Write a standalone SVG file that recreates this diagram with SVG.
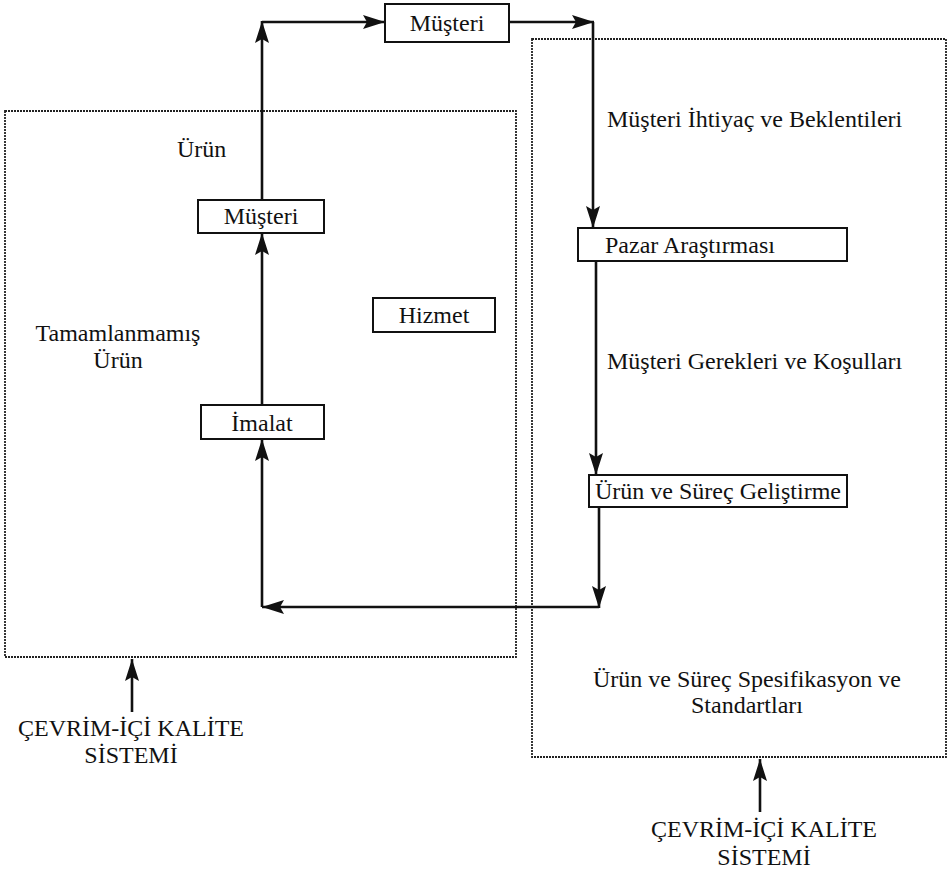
<svg xmlns="http://www.w3.org/2000/svg" width="948" height="870" viewBox="0 0 948 870">
<style>
text{font-family:"Liberation Serif","Times New Roman",serif;font-size:24px;fill:#111;}
.c{text-anchor:middle;}
.box{fill:#fff;stroke:#111;stroke-width:2;}
.dot{fill:none;stroke:#222;stroke-width:1.8;stroke-dasharray:2 1;}
.ln{fill:none;stroke:#111;stroke-width:2.6;marker-end:url(#ah);}
</style>
<defs>
<marker id="ah" markerUnits="userSpaceOnUse" markerWidth="24" markerHeight="14" refX="22" refY="7" orient="auto">
<path d="M0,0 L22,7 L0,14 L4,7 Z" fill="#111"/>
</marker>
</defs>
<g id="left-frame"><rect class="dot" x="5" y="111" width="511" height="546"/></g>
<g id="right-frame"><rect class="dot" x="532" y="39" width="414" height="718"/></g>
<g id="connectors">
<line class="ln" x1="262" y1="405" x2="262" y2="233"/>
<line class="ln" x1="262" y1="200" x2="262" y2="21"/>
<line class="ln" x1="262" y1="22" x2="385" y2="22"/>
<line class="ln" x1="509" y1="22" x2="594" y2="22"/>
<line class="ln" x1="593" y1="22" x2="593" y2="228"/>
<line class="ln" x1="596" y1="261" x2="596" y2="475"/>
<line class="ln" x1="599" y1="507" x2="599" y2="608"/>
<line class="ln" x1="599" y1="607" x2="262" y2="607"/>
<line class="ln" x1="262" y1="607" x2="262" y2="439"/>
<line class="ln" x1="132" y1="712" x2="132" y2="659"/>
<line class="ln" x1="760" y1="812" x2="760" y2="759"/>
</g>
<g id="musteri-top"><rect class="box" x="385" y="4" width="124" height="38"/><text class="c" x="447" y="31">Müşteri</text></g>
<g id="musteri-left"><rect class="box" x="198" y="200" width="126" height="33"/><text class="c" x="261" y="224">Müşteri</text></g>
<g id="hizmet"><rect class="box" x="373" y="298" width="122" height="34"/><text class="c" x="434" y="323">Hizmet</text></g>
<g id="imalat"><rect class="box" x="201" y="405" width="123" height="34"/><text class="c" x="262" y="431">İmalat</text></g>
<g id="pazar"><rect class="box" x="578" y="228" width="269" height="33"/><text x="605" y="253">Pazar Araştırması</text></g>
<g id="gelistirme"><rect class="box" x="589" y="475" width="258" height="32"/><text class="c" x="718" y="499">Ürün ve Süreç Geliştirme</text></g>
<g id="labels">
<text x="177" y="157">Ürün</text>
<text class="c" x="118" y="341">Tamamlanmamış</text>
<text class="c" x="118" y="368">Ürün</text>
<text x="607" y="127">Müşteri İhtiyaç ve Beklentileri</text>
<text x="607" y="369">Müşteri Gerekleri ve Koşulları</text>
<text class="c" x="747" y="687">Ürün ve Süreç Spesifikasyon ve</text>
<text class="c" x="747" y="713">Standartları</text>
<text class="c" x="131" y="736">ÇEVRİM-İÇİ KALİTE</text>
<text class="c" x="131" y="763">SİSTEMİ</text>
<text class="c" x="764" y="837">ÇEVRİM-İÇİ KALİTE</text>
<text class="c" x="764" y="865">SİSTEMİ</text>
</g>
</svg>
